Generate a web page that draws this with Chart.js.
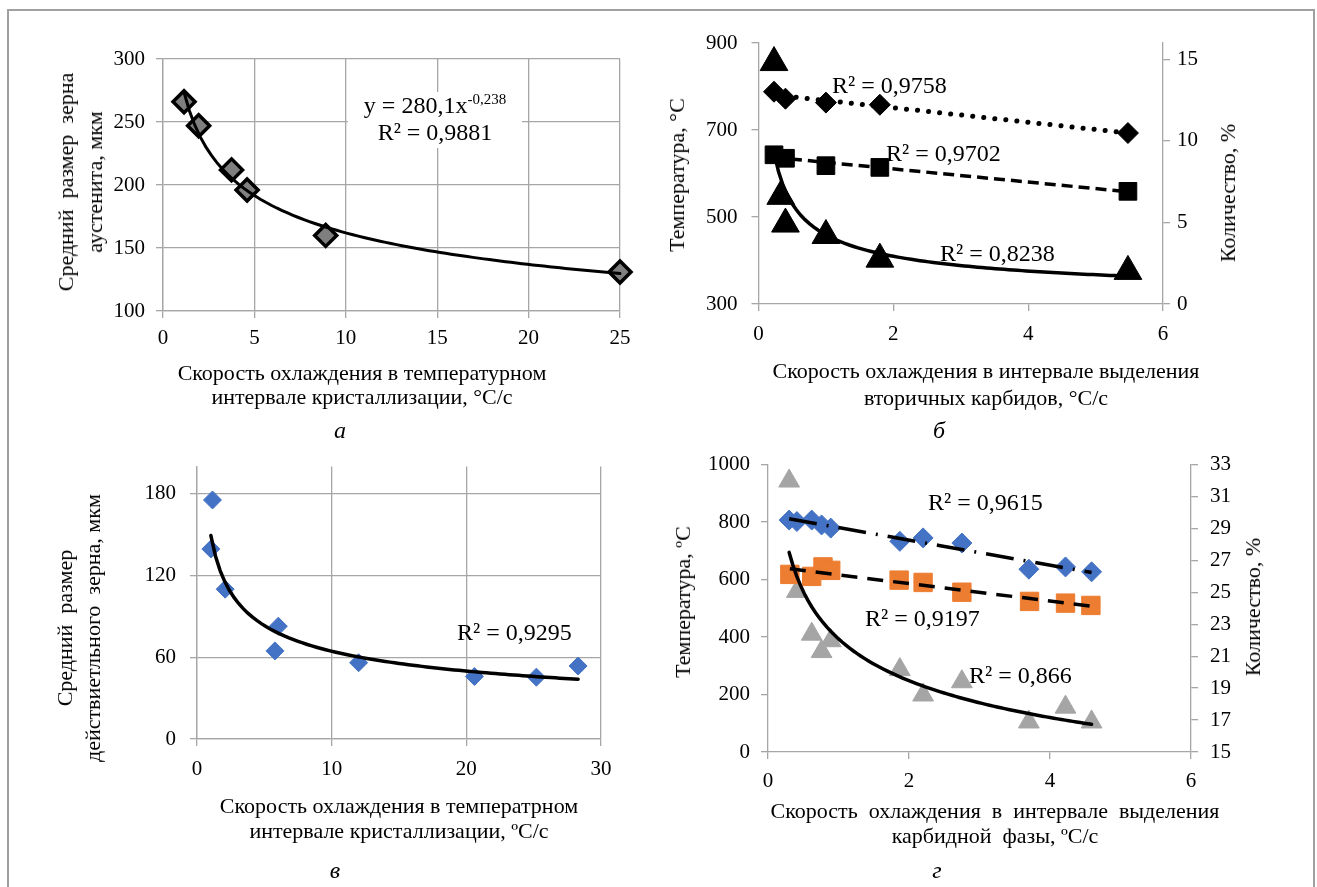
<!DOCTYPE html>
<html>
<head>
<meta charset="utf-8">
<script src="https://cdn.jsdelivr.net/npm/chart.js@4.4.0/dist/chart.umd.min.js"></script>
<style>
  body { margin: 0; background: #fff; }
  #fig { position: relative; width: 1317px; height: 887px; overflow: hidden; background: #fff;
         font-family: "Liberation Serif", "Times New Roman", serif; color: #000; }
  .frame { position: absolute; left: 7px; top: 9px; width: 1304px; height: 900px;
           border: 2px solid #a0a0a0; }
  .box { position: absolute; }
  .tx { position: absolute; transform: translate(-50%, -50%); white-space: pre; font-size: 22px; text-align: center; }
  .rt { position: absolute; transform: translate(-50%, -50%) rotate(-90deg); white-space: pre; font-size: 22px; text-align: center; }
  .r2 { position: absolute; transform: translateY(-50%); white-space: pre; font-size: 24px; line-height: 1; }
  .lt { position: absolute; transform: translate(-50%, -50%); font-size: 24px; font-style: italic; }
  .eq { position: absolute; left: 348px; top: 92px; width: 174px; height: 56px; background: #fff;
        font-size: 24px; line-height: 27px; text-align: center; padding-top: 0; box-sizing: border-box; }
  .eq sup { font-size: 15px; vertical-align: 9px; line-height: 0; }
</style>
</head>
<body>
<div id="fig">
  <div class="frame"></div>

  <div class="box" style="left:0;top:0"><canvas id="chartA" width="660" height="440"></canvas></div>
  <div class="box" style="left:660px;top:0"><canvas id="chartB" width="657" height="440"></canvas></div>
  <div class="box" style="left:0;top:440px"><canvas id="chartC" width="660" height="447"></canvas></div>
  <div class="box" style="left:660px;top:440px"><canvas id="chartD" width="657" height="447"></canvas></div>

  <!-- а -->
  <div class="rt" style="left:79.5px;top:182px;line-height:29px">Средний  размер  зерна
аустенита, мкм</div>
  <div class="tx" style="left:362px;top:385px;line-height:24px">Скорость охлаждения в температурном
интервале кристаллизации, °С/с</div>
  <div class="eq">y = 280,1x<sup>-0,238</sup><br>R² = 0,9881</div>
  <div class="lt" style="left:340px;top:430px">а</div>

  <!-- б -->
  <div class="rt" style="left:677px;top:175px">Температура, °С</div>
  <div class="rt" style="left:1228px;top:193px">Количество, %</div>
  <div class="tx" style="left:986px;top:383.5px;line-height:27px">Скорость охлаждения в интервале выделения
вторичных карбидов, °С/с</div>
  <div class="r2" style="left:832px;top:85px">R² = 0,9758</div>
  <div class="r2" style="left:886px;top:153px">R² = 0,9702</div>
  <div class="r2" style="left:940px;top:253px">R² = 0,8238</div>
  <div class="lt" style="left:939px;top:430px">б</div>

  <!-- в -->
  <div class="rt" style="left:79px;top:628px;line-height:28px">Средний  размер
действиетльного  зерна, мкм</div>
  <div class="tx" style="left:399px;top:817.5px;line-height:25px">Скорость охлаждения в температрном
интервале кристаллизации, ºС/с</div>
  <div class="r2" style="left:457px;top:632px">R² = 0,9295</div>
  <div class="lt" style="left:335px;top:870px">в</div>

  <!-- г -->
  <div class="rt" style="left:683px;top:602px">Температура, ºС</div>
  <div class="rt" style="left:1253px;top:607px">Количество, %</div>
  <div class="tx" style="left:995px;top:822.5px;line-height:25px">Скорость  охлаждения  в  интервале  выделения
карбидной  фазы, ºС/с</div>
  <div class="r2" style="left:928px;top:502px">R² = 0,9615</div>
  <div class="r2" style="left:865px;top:618px">R² = 0,9197</div>
  <div class="r2" style="left:969px;top:675px">R² = 0,866</div>
  <div class="lt" style="left:937px;top:870px">г</div>
</div>

<script>
// а: размер зерна аустенита
const aX = [1.15, 1.95, 3.75, 4.6, 8.9, 25];
const aY = [266, 247, 212, 196, 160, 131];

// б: температуры начала/конца выделения и количество карбидов
const bX = [0.23, 0.40, 1.0, 1.8, 5.48];
const bStart = [788, 772, 763, 758, 693];
const bEnd = [643, 635, 618, 614, 559];
const bAmtX = [0.23, 0.33, 0.40, 1.0, 1.8, 5.48];
const bAmt = [14.8, 6.6, 4.9, 4.2, 2.75, 2.0];

// в: размер действительного зерна
const cX = [1.15, 1.03, 2.09, 6.04, 5.79, 12.0, 20.6, 25.2, 28.3];
const cY = [175.5, 139.5, 110, 82.8, 64.7, 56, 45.9, 45.4, 53.6];

// г: карбидная фаза
const dX = [0.30, 0.41, 0.62, 0.76, 0.89, 1.87, 2.20, 2.75, 3.70, 4.22, 4.59];
const dStart = [807, 802, 807, 790, 779, 733, 745, 727, 636, 644, 627];
const dSqX = [0.31, 0.62, 0.78, 0.89, 1.86, 2.20, 2.75, 3.71, 4.22, 4.58];
const dEnd = [618, 611, 644, 632, 598, 590, 556, 524, 518, 510];
const dAmt = [31.97, 25.06, 22.38, 21.29, 21.97, 20.16, 18.57, 19.40, 16.88, 17.81, 16.88];

const serif = "'Liberation Serif', 'Times New Roman', serif";
const tickFont = { family: serif, size: 21 };
const axisCol = '#a6a6a6';

// линии тренда (МНК, как в Excel)
function linFit(xs, ys) {
  const n = xs.length;
  const mx = xs.reduce((s, v) => s + v, 0) / n;
  const my = ys.reduce((s, v) => s + v, 0) / n;
  let sxy = 0, sxx = 0;
  for (let i = 0; i < n; i++) {
    sxy += (xs[i] - mx) * (ys[i] - my);
    sxx += (xs[i] - mx) * (xs[i] - mx);
  }
  const b = sxy / sxx, a = my - b * mx;
  return x => a + b * x;
}
function powFit(xs, ys) {
  const f = linFit(xs.map(Math.log), ys.map(Math.log));
  return x => Math.exp(f(Math.log(x)));
}
function trend(xs, f, n) {
  const lo = Math.min(...xs), hi = Math.max(...xs), out = [];
  for (let i = 0; i <= n; i++) {
    const x = lo + (hi - lo) * i / n;
    out.push({ x: x, y: f(x) });
  }
  return out;
}
function pts(xs, ys) { return xs.map((x, i) => ({ x: x, y: ys[i] })); }

function scale(min, max, step, size, pad, grid, pos) {
  return {
    type: 'linear', position: pos, min: min, max: max,
    afterFit: s => { if (s.isHorizontal()) s.height = size; else s.width = size; },
    ticks: { stepSize: step, font: tickFont, color: '#000', padding: pad, includeBounds: false,
             callback: v => String(v) },
    grid: { color: axisCol, lineWidth: 1.3, tickLength: 7, drawOnChartArea: grid },
    border: { color: axisCol, width: 1.3 }
  };
}
function marks(data, style, r, fill, border, bw, axis, order) {
  return { type: 'scatter', data: data, pointStyle: style, pointRadius: r, pointHoverRadius: r,
           backgroundColor: fill, borderColor: border, pointBorderWidth: bw, yAxisID: axis,
           order: order, clip: false };
}
function line(data, width, dash, cap, axis) {
  return { type: 'scatter', data: data, showLine: true, pointRadius: 0, borderColor: '#000',
           borderWidth: width, borderDash: dash, borderCapStyle: cap, yAxisID: axis,
           order: 0, clip: false };
}
function opts(padding, scales) {
  return {
    responsive: false, animation: false,
    layout: { padding: padding },
    plugins: { legend: { display: false }, tooltip: { enabled: false } },
    scales: scales
  };
}

// а
new Chart(document.getElementById('chartA'), {
  type: 'scatter',
  data: { datasets: [
    line(trend(aX, powFit(aX, aY), 80), 3, [], 'round', 'y'),
    marks(pts(aX, aY), 'rectRot', 11, '#7f7f7f', '#000', 3.5, 'y', 1)
  ] },
  options: opts({ top: 59, right: 40, left: 0, bottom: 0 }, {
    x: scale(0, 25, 5, 129, 8, true, 'bottom'),
    y: scale(100, 300, 50, 163, 11, true, 'left')
  })
});

// б
new Chart(document.getElementById('chartB'), {
  type: 'scatter',
  data: { datasets: [
    line(trend(bX, linFit(bX, bStart), 2), 5, [0.1, 11], 'round', 'y'),
    line(trend(bX, linFit(bX, bEnd), 2), 3.5, [11, 6], 'butt', 'y'),
    line(trend(bAmtX, powFit(bAmtX, bAmt), 80), 3.5, [], 'round', 'y2'),
    marks(pts(bX, bStart), 'rectRot', 10.5, '#000', '#000', 1, 'y', 1),
    marks(pts(bX, bEnd), 'rect', 12.5, '#000', '#000', 1, 'y', 2),
    marks(pts(bAmtX, bAmt), 'triangle', 16, '#000', '#000', 1, 'y2', 3)
  ] },
  options: opts({ top: 43, right: 0, left: 0, bottom: 0 }, {
    x: scale(0, 6, 2, 136, 11, false, 'bottom'),
    y: scale(300, 900, 200, 98.5, 14, false, 'left'),
    y2: scale(0, 16, 5, 154, 7, false, 'right')
  })
});

// в
new Chart(document.getElementById('chartC'), {
  type: 'scatter',
  data: { datasets: [
    line(trend(cX, powFit(cX, cY), 80), 3.5, [], 'round', 'y'),
    marks(pts(cX, cY), 'rectRot', 9, '#4472c4', '#4472c4', 1, 'y', 1)
  ] },
  options: opts({ top: 16, right: 59, left: 0, bottom: 0 }, {
    x: scale(0, 30, 10, 148, 11, true, 'bottom'),
    y: scale(0, 200, 60, 197, 14, true, 'left')
  })
});

// г
new Chart(document.getElementById('chartD'), {
  type: 'scatter',
  data: { datasets: [
    line(trend(dX, linFit(dX, dStart), 2), 3.5, [28, 10, 2, 10], 'butt', 'y'),
    line(trend(dSqX, linFit(dSqX, dEnd), 2), 3.5, [16, 10], 'butt', 'y'),
    line(trend(dX, powFit(dX, dAmt), 80), 3.5, [], 'round', 'y2'),
    marks(pts(dX, dStart), 'rectRot', 10, '#4472c4', '#4472c4', 1, 'y', 1),
    marks(pts(dSqX, dEnd), 'rect', 13, '#ed7d31', '#ed7d31', 1, 'y', 2),
    marks(pts(dX, dAmt), 'triangle', 12, '#a5a5a5', '#a5a5a5', 1, 'y2', 3)
  ] },
  options: opts({ top: 21, right: 0, left: 0, bottom: 0 }, {
    x: scale(0, 6, 2, 135, 10, false, 'bottom'),
    y: scale(0, 1000, 200, 108, 11, false, 'left'),
    y2: scale(15, 33, 2, 126, 12, false, 'right')
  })
});
</script>
</body>
</html>
